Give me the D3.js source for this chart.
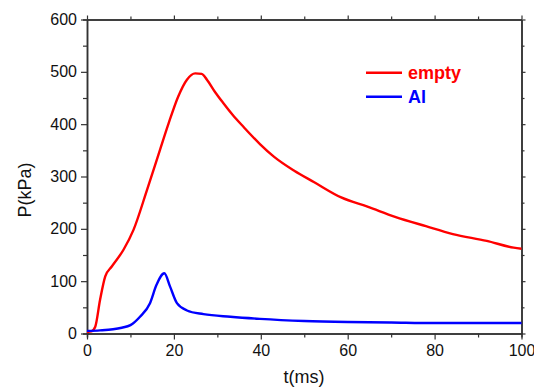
<!DOCTYPE html>
<html>
<head>
<meta charset="utf-8">
<script src="https://cdn.jsdelivr.net/npm/d3@7"></script>
<style>
  body { margin: 0; background: #fff; }
  text { font-family: "Liberation Sans", Arial, sans-serif; }
</style>
</head>
<body>
<svg id="chart" width="534" height="387"></svg>
<script>
// values
const emptyT = [0, 1, 1.9, 3.0, 4.2, 5.7, 8.4, 10.7, 13.8, 16.8, 18.8, 21, 23, 24.9, 26.4, 27.6, 29.5, 31.4, 33.5, 36, 39.8, 43, 47.7, 52.3, 58.5, 64.7, 70.9, 78, 84.2, 92, 98.2, 100];
const emptyP = [3, 4, 13, 64, 109, 128, 160, 198, 274, 351, 402, 453, 485, 497, 496, 485, 461, 440, 418, 395, 362, 338, 311, 289, 260, 242, 223, 205, 190, 177, 164, 162];
const alT = [0, 3, 6, 8, 10, 12.2, 14.5, 16, 17.8, 19.1, 20.7, 23, 26.8, 33, 39.8, 50, 60, 70, 80, 90, 100];
const alP = [5, 6, 8, 11, 16, 32, 58, 93, 115, 90, 58, 44, 37, 32, 28, 24, 22, 21, 20, 20, 20];
const xTicks = [0, 20, 40, 60, 80, 100];
const yTicks = [0, 100, 200, 300, 400, 500, 600];
const seriesNames = ["empty", "Al"];
const seriesColors = ["#ff0000", "#0000ff"];

const svg = d3.select("#chart");
const mLeft = 87, mRight = 521.5, mTop = 19.5, mBottom = 333.5;

const x = d3.scaleLinear().domain([0, 100]).range([mLeft, mRight]);
const y = d3.scaleLinear().domain([0, 600]).range([mBottom, mTop]);

const axisCol = "#333";

// minor ticks
const xMinor = d3.range(10, 100, 20);
const yMinor = d3.range(50, 600, 100);

function styleAxis(g) {
  g.select(".domain").attr("stroke", axisCol).attr("stroke-width", 1.5);
  g.selectAll(".tick line").attr("stroke", axisCol).attr("stroke-width", 1.2);
  g.selectAll(".tick text").attr("font-size", 16).attr("fill", "#111")
    .style("font-family", "'Liberation Sans', Arial, sans-serif");
}

// bottom
svg.append("g").attr("transform", `translate(0,${mBottom})`)
  .call(d3.axisBottom(x).tickValues(xMinor).tickSize(4).tickFormat(""))
  .call(styleAxis);
svg.append("g").attr("transform", `translate(0,${mBottom})`)
  .call(d3.axisBottom(x).tickValues(xTicks).tickSize(6).tickPadding(5).tickSizeOuter(0))
  .call(styleAxis);
// top
svg.append("g").attr("transform", `translate(0,${mTop})`)
  .call(d3.axisBottom(x).tickValues(xMinor).tickSize(-3).tickFormat("").tickSizeOuter(0))
  .call(styleAxis);
svg.append("g").attr("transform", `translate(0,${mTop})`)
  .call(d3.axisBottom(x).tickValues(xTicks).tickSize(-4).tickFormat("").tickSizeOuter(0))
  .call(styleAxis);
// left
svg.append("g").attr("transform", `translate(${mLeft},0)`)
  .call(d3.axisLeft(y).tickValues(yMinor).tickSize(4).tickFormat(""))
  .call(styleAxis);
svg.append("g").attr("transform", `translate(${mLeft},0)`)
  .call(d3.axisLeft(y).tickValues(yTicks).tickSize(6).tickPadding(4).tickSizeOuter(0))
  .call(styleAxis);
// right
svg.append("g").attr("transform", `translate(${mRight},0)`)
  .call(d3.axisLeft(y).tickValues(yMinor).tickSize(-3).tickFormat("").tickSizeOuter(0))
  .call(styleAxis);
svg.append("g").attr("transform", `translate(${mRight},0)`)
  .call(d3.axisLeft(y).tickValues(yTicks).tickSize(-4).tickFormat("").tickSizeOuter(0))
  .call(styleAxis);

// axis titles
svg.append("text").attr("x", 304).attr("y", 383).attr("text-anchor", "middle")
  .attr("font-size", 18).attr("fill", "#111").text("t(ms)");
svg.append("text").attr("transform", "translate(31,190) rotate(-90)").attr("text-anchor", "middle")
  .attr("font-size", 18).attr("fill", "#111").text("P(kPa)");

const line = d3.line().x(d => x(d[0])).y(d => y(d[1])).curve(d3.curveMonotoneX);

const series = [d3.zip(emptyT, emptyP), d3.zip(alT, alP)];
series.forEach((s, i) => {
  svg.append("path").datum(s).attr("d", line)
    .attr("fill", "none").attr("stroke", seriesColors[i]).attr("stroke-width", 2.4)
    .attr("stroke-linejoin", "round");
});

// legend
seriesNames.forEach((n, i) => {
  const ly = 72.7 + i * 24;
  svg.append("line").attr("x1", 366).attr("x2", 402).attr("y1", ly).attr("y2", ly)
    .attr("stroke", seriesColors[i]).attr("stroke-width", 2.4);
  svg.append("text").attr("x", 408).attr("y", ly + 6).attr("font-size", 18)
    .attr("font-weight", "bold").attr("fill", seriesColors[i]).text(n);
});
</script>
</body>
</html>
